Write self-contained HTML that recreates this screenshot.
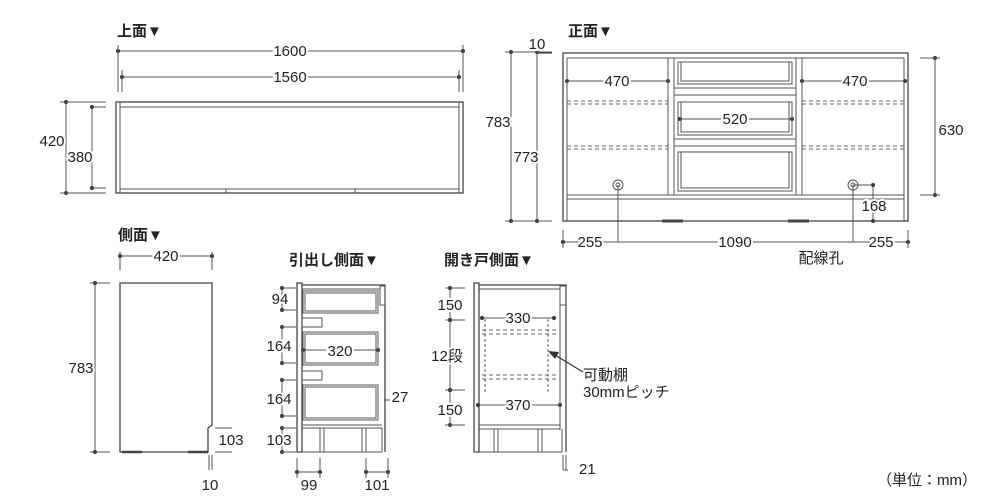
<!DOCTYPE html>
<html><head><meta charset="utf-8"><style>
html,body{margin:0;padding:0;background:#fff}
svg{display:block}
text{font-family:"Liberation Sans","Noto Sans CJK JP",sans-serif;fill:#222;font-size:15px}
.b{font-weight:bold;font-size:15px}
.l{stroke:#444;stroke-width:1.3;fill:none}
.t{stroke:#555;stroke-width:1;fill:none}
.d{stroke:#666;stroke-width:1;fill:none;stroke-dasharray:4 3}
.o{stroke:#666;stroke-width:1.4;fill:none;stroke-dasharray:1 4;stroke-linecap:round}
</style></head><body>
<svg width="1000" height="500" viewBox="0 0 1000 500" xmlns="http://www.w3.org/2000/svg">
<defs><marker id="dot" viewBox="0 0 4 4" refX="2" refY="2" markerWidth="4" markerHeight="4"><circle cx="2" cy="2" r="2" fill="#333"/></marker></defs>
<g marker-start="url(#dot)" marker-end="url(#dot)" class="t">
<!-- top view dims -->
<line x1="118" y1="51" x2="463" y2="51"/>
<line x1="122" y1="77" x2="459" y2="77"/>
<line x1="66" y1="102" x2="66" y2="193"/>
<line x1="92" y1="107" x2="92" y2="188"/>
<!-- front dims -->
<line x1="511" y1="52" x2="511" y2="221"/>
<line x1="537" y1="52" x2="537" y2="221"/>
<line x1="935" y1="58" x2="935" y2="195"/>
<line x1="567" y1="81" x2="668" y2="81"/>
<line x1="802" y1="81" x2="905" y2="81"/>
<line x1="680" y1="119" x2="792" y2="119"/>
<line x1="563" y1="242" x2="908" y2="242"/>
<line x1="873" y1="185" x2="873" y2="221"/>
<!-- side -->
<line x1="120" y1="256" x2="212" y2="256"/>
<line x1="95" y1="283" x2="95" y2="452"/>
<!-- drawer side -->
<line x1="282" y1="288" x2="282" y2="310"/>
<line x1="282" y1="327" x2="282" y2="363"/>
<line x1="282" y1="380" x2="282" y2="416"/>
<line x1="282" y1="428" x2="282" y2="452"/>
<line x1="303" y1="350" x2="378" y2="350"/>
<line x1="297" y1="472" x2="320" y2="472"/>
<line x1="366" y1="472" x2="388" y2="472"/>
<!-- door side -->
<line x1="450" y1="288" x2="450" y2="320"/>
<line x1="450" y1="320" x2="450" y2="390"/>
<line x1="450" y1="390" x2="450" y2="425"/>
<line x1="482" y1="318" x2="554" y2="318"/>
<line x1="478" y1="405" x2="560" y2="405"/>
</g>
<g class="t">
<line x1="118" y1="45" x2="118" y2="92"/><line x1="463" y1="45" x2="463" y2="92"/>
<line x1="122" y1="70" x2="122" y2="92"/><line x1="459" y1="70" x2="459" y2="92"/>
<line x1="60" y1="102" x2="106" y2="102"/><line x1="60" y1="193" x2="106" y2="193"/>
<line x1="92" y1="107" x2="106" y2="107"/><line x1="92" y1="188" x2="106" y2="188"/>
<line x1="505" y1="52" x2="552" y2="52"/><line x1="505" y1="221" x2="552" y2="221"/>
<line x1="920" y1="58" x2="940" y2="58"/><line x1="920" y1="195" x2="940" y2="195"/>
<line x1="563" y1="230" x2="563" y2="248"/><line x1="908" y1="230" x2="908" y2="248"/>
<line x1="618" y1="185" x2="618" y2="242"/><line x1="853" y1="185" x2="853" y2="242"/>
<line x1="853" y1="185" x2="873" y2="185"/><line x1="860" y1="221" x2="873" y2="221"/>
<line x1="120" y1="252" x2="120" y2="270"/><line x1="212" y1="252" x2="212" y2="270"/>
<line x1="90" y1="283" x2="110" y2="283"/><line x1="90" y1="452" x2="110" y2="452"/>
<line x1="215" y1="428" x2="232" y2="428"/><line x1="215" y1="452" x2="232" y2="452"/>
<line x1="209" y1="455" x2="209" y2="470"/><line x1="212" y1="455" x2="212" y2="470"/>
<line x1="280" y1="288" x2="296" y2="288"/><line x1="280" y1="310" x2="296" y2="310"/>
<line x1="280" y1="327" x2="296" y2="327"/><line x1="280" y1="363" x2="296" y2="363"/>
<line x1="280" y1="380" x2="296" y2="380"/><line x1="280" y1="416" x2="296" y2="416"/>
<line x1="280" y1="428" x2="296" y2="428"/><line x1="280" y1="452" x2="296" y2="452"/>
<line x1="297" y1="458" x2="297" y2="478"/><line x1="320" y1="458" x2="320" y2="478"/>
<line x1="366" y1="458" x2="366" y2="478"/><line x1="388" y1="458" x2="388" y2="478"/>
<line x1="384" y1="400" x2="390" y2="400"/>
<line x1="445" y1="288" x2="465" y2="288"/><line x1="445" y1="320" x2="465" y2="320"/>
<line x1="445" y1="390" x2="465" y2="390"/><line x1="445" y1="425" x2="465" y2="425"/>
<line x1="563" y1="455" x2="563" y2="470"/><line x1="566" y1="455" x2="566" y2="470"/>
<line x1="563" y1="470" x2="568" y2="470"/>
</g>
<!-- TOP VIEW -->
<rect x="116" y="102" width="347" height="91" class="l"/>
<line x1="120" y1="102" x2="120" y2="193" class="t"/><line x1="459" y1="102" x2="459" y2="193" class="t"/>
<line x1="120" y1="107" x2="459" y2="107" class="t"/>
<line x1="120" y1="189" x2="459" y2="189" class="t"/>
<line x1="226" y1="189" x2="226" y2="193" class="t"/><line x1="355" y1="189" x2="355" y2="193" class="t"/>
<!-- FRONT VIEW -->
<rect x="563" y="53" width="345" height="168" class="l"/>
<line x1="567" y1="58" x2="567" y2="221" class="t"/><line x1="904" y1="58" x2="904" y2="221" class="t"/>
<line x1="567" y1="58" x2="904" y2="58" class="t"/>
<line x1="567" y1="195" x2="904" y2="195" class="t"/><line x1="567" y1="199" x2="904" y2="199" class="t"/>
<line x1="668" y1="58" x2="668" y2="195" class="t"/><line x1="674" y1="58" x2="674" y2="195" class="t"/>
<line x1="796" y1="58" x2="796" y2="195" class="t"/><line x1="802" y1="58" x2="802" y2="195" class="t"/>
<rect x="678" y="62" width="114" height="22" class="t"/><rect x="681" y="62" width="108" height="19" class="t"/>
<rect x="674" y="88" width="122" height="7" class="t"/>
<rect x="678" y="102" width="114" height="33" class="t"/><rect x="681" y="102" width="108" height="30" class="t"/>
<rect x="674" y="139" width="122" height="7" class="t"/>
<rect x="678" y="152" width="114" height="39" class="t"/><rect x="681" y="152" width="108" height="36" class="t"/>
<line x1="567" y1="101" x2="668" y2="101" class="d"/><line x1="567" y1="104" x2="668" y2="104" class="d"/>
<line x1="802" y1="101" x2="904" y2="101" class="d"/><line x1="802" y1="104" x2="904" y2="104" class="d"/>
<line x1="567" y1="146" x2="668" y2="146" class="d"/><line x1="567" y1="149" x2="668" y2="149" class="d"/>
<line x1="802" y1="146" x2="904" y2="146" class="d"/><line x1="802" y1="149" x2="904" y2="149" class="d"/>
<g class="t"><circle cx="618" cy="185" r="5"/><circle cx="618" cy="185" r="2"/><circle cx="853" cy="185" r="5"/><circle cx="853" cy="185" r="2"/></g>
<line x1="662" y1="221" x2="683" y2="221" stroke="#444" stroke-width="3"/>
<line x1="788" y1="221" x2="809" y2="221" stroke="#444" stroke-width="3"/>
<line x1="537" y1="53" x2="552" y2="53" class="l"/>
<!-- SIDE VIEW -->
<path d="M120 283 H212 V425 L208 428 V452 H120 Z" class="l"/>
<line x1="122" y1="452" x2="142" y2="452" stroke="#444" stroke-width="2.5"/>
<line x1="188" y1="452" x2="208" y2="452" stroke="#444" stroke-width="2.5"/>
<!-- DRAWER SIDE -->
<g class="t">
<rect x="297" y="283" width="5" height="169" class="l"/>
<path d="M302 285 H385 V452" class="l"/>
<line x1="302" y1="289" x2="380" y2="289"/>
<rect x="380" y="286" width="5" height="19"/>
<rect x="303" y="291" width="75" height="22"/><rect x="305" y="293" width="71" height="18"/>
<rect x="302" y="318" width="20" height="9"/>
<rect x="303" y="332" width="75" height="33"/><rect x="305" y="334" width="71" height="29"/>
<rect x="302" y="371" width="20" height="9"/>
<rect x="303" y="385" width="75" height="35"/><rect x="305" y="387" width="71" height="31"/>
<line x1="302" y1="425" x2="382" y2="425"/><line x1="302" y1="428" x2="382" y2="428"/>
<line x1="297" y1="452" x2="382" y2="452"/>
<rect x="320" y="428" width="4" height="24"/><rect x="362" y="428" width="4" height="24"/>
<line x1="382" y1="428" x2="382" y2="452"/>
</g>
<!-- DOOR SIDE -->
<g class="t">
<rect x="474" y="283" width="5" height="169" class="l"/>
<path d="M479 285 H566 V452" class="l"/>
<line x1="479" y1="289" x2="560" y2="289"/>
<rect x="560" y="286" width="6" height="19"/>
<line x1="560" y1="305" x2="560" y2="430"/>
<line x1="479" y1="425" x2="560" y2="425"/><line x1="479" y1="429" x2="560" y2="429"/>
<line x1="474" y1="452" x2="562" y2="452"/>
<rect x="494" y="429" width="4" height="23"/><rect x="538" y="429" width="4" height="23"/>
<line x1="562" y1="429" x2="562" y2="452"/>
</g>
<line x1="485" y1="320" x2="485" y2="392" class="o"/><line x1="548" y1="320" x2="548" y2="392" class="o"/>
<line x1="482" y1="330" x2="556" y2="330" class="d"/><line x1="482" y1="334" x2="556" y2="334" class="d"/>
<line x1="482" y1="375" x2="556" y2="375" class="d"/><line x1="482" y1="379" x2="556" y2="379" class="d"/>
<line x1="583" y1="372" x2="555" y2="355" stroke="#333" stroke-width="1.2"/>
<polygon points="548,351 559,352 555,359" fill="#333"/>
<!-- TEXT -->
<text x="117" y="36" class="b">上面▼</text>
<text x="568" y="36" class="b">正面▼</text>
<text x="118" y="240" class="b">側面▼</text>
<text x="289" y="265" class="b">引出し側面▼</text>
<text x="444" y="265" class="b">開き戸側面▼</text>
<g text-anchor="middle" style="paint-order:stroke" stroke="#fff" stroke-width="4">
<text x="290" y="56">1600</text>
<text x="290" y="82">1560</text>
<text x="52" y="146">420</text>
<text x="80" y="162">380</text>
<text x="537" y="49">10</text>
<text x="498" y="127">783</text>
<text x="526" y="162">773</text>
<text x="951" y="135">630</text>
<text x="617" y="86">470</text>
<text x="855" y="86">470</text>
<text x="735" y="124">520</text>
<text x="874" y="211">168</text>
<text x="590" y="247">255</text>
<text x="735" y="247">1090</text>
<text x="881" y="247">255</text>
<text x="821" y="263" stroke-width="0">配線孔</text>
<text x="166" y="261">420</text>
<text x="81" y="373">783</text>
<text x="231" y="445">103</text>
<text x="210" y="490">10</text>
<text x="280" y="304">94</text>
<text x="279" y="351">164</text>
<text x="279" y="404">164</text>
<text x="279" y="445">103</text>
<text x="340" y="356">320</text>
<text x="400" y="402">27</text>
<text x="309" y="490">99</text>
<text x="377" y="490">101</text>
<text x="450" y="310">150</text>
<text x="447" y="361">12段</text>
<text x="450" y="415">150</text>
<text x="518" y="323">330</text>
<text x="518" y="410">370</text>
<text x="579" y="474" text-anchor="start">21</text>
</g>
<text x="583" y="380" font-size="14">可動棚</text>
<text x="583" y="397" font-size="14">30mmピッチ</text>
<text x="877" y="485" font-size="14">（単位：mm）</text>
</svg>
</body></html>
